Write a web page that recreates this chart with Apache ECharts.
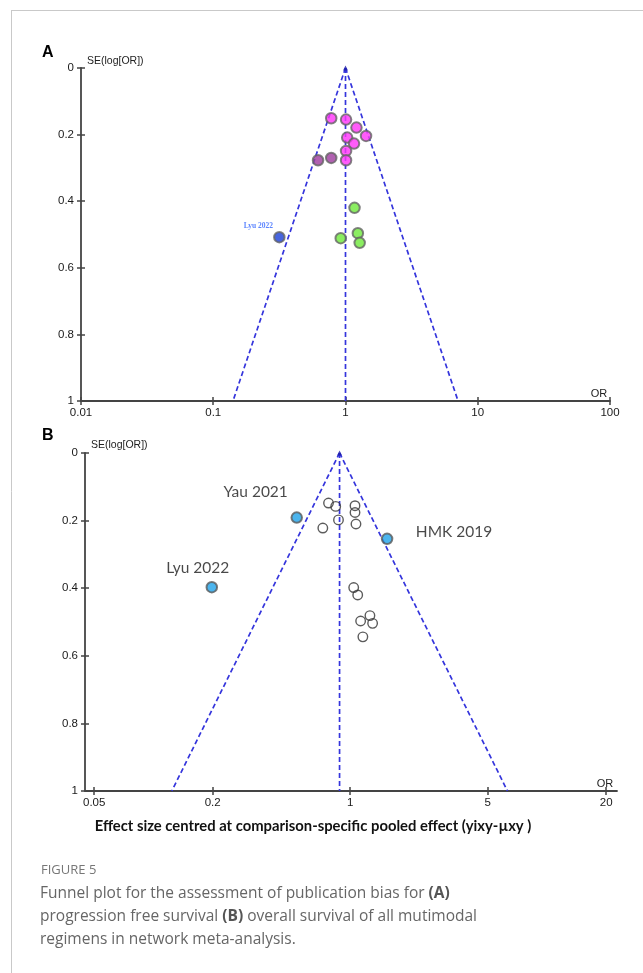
<!DOCTYPE html>
<html>
<head>
<meta charset="utf-8">
<script src="https://cdn.jsdelivr.net/npm/echarts@6/dist/echarts.min.js"></script>
<style>
html,body{margin:0;padding:0;background:#fff;}
#chart{width:643px;height:973px;}
</style>
</head>
<body>
<div id="chart"></div>
<script>
// ---------- Panel A: progression free survival ----------
const pfsMagentaOR = [0.78, 1.01, 1.21, 1.43, 1.03, 1.16, 1.01, 1.01];
const pfsMagentaSE = [0.151, 0.155, 0.179, 0.204, 0.209, 0.227, 0.249, 0.277];
const pfsPurpleOR = [0.62, 0.78];
const pfsPurpleSE = [0.277, 0.270];
const pfsGreenOR = [1.17, 0.92, 1.24, 1.28];
const pfsGreenSE = [0.420, 0.511, 0.496, 0.525];
const pfsOutlierNames = ['Lyu 2022'];
const pfsOutlierOR = [0.316];
const pfsOutlierSE = [0.508];
// funnel (pseudo 95% limits) read at SE = 0 and SE = 1
const funnelSE = [0, 1];
const pfsFunnelLeft = [1, 0.141];
const pfsFunnelRight = [1, 7.1];
const pfsFunnelCenter = [1, 1];
const pfsTickValues = [0.01, 0.1, 1, 10, 100];

// ---------- Panel B: overall survival ----------
const osOpenOR = [0.776, 0.844, 0.872, 0.726, 1.058, 1.058, 1.07, 1.042, 1.092, 1.26, 1.13, 1.30, 1.16];
const osOpenSE = [0.148, 0.158, 0.198, 0.222, 0.156, 0.176, 0.210, 0.398, 0.420, 0.481, 0.497, 0.504, 0.544];
const osLabelledNames = ['Yau 2021', 'Lyu 2022', 'HMK 2019'];
const osLabelledOR = [0.535, 0.198, 1.54];
const osLabelledSE = [0.191, 0.397, 0.254];
const osFunnelLeft = [0.883, 0.124];
const osFunnelRight = [0.883, 6.30];
const osFunnelCenter = [0.883, 0.883];
const osTickValues = [0.05, 0.2, 1, 5, 20];
const osTickLabels = ['0.05', '0.2', '1', '5', '20'];
const osAxisRange = [0.0449, 22.7];

// SE axis ticks
const seTickValues = [0, 0.2, 0.4, 0.6, 0.8, 1];
const seTickLabels = ['0', '0.2', '0.4', '0.6', '0.8', '1'];

const lg = v => Math.log10(v);
const axisColor = '#444444';
const tickFont = {color: '#1a1a1a', fontFamily: 'Liberation Sans', fontSize: 11.5};
const funnelBlue = '#3535dc';

function seFormatter(v) {
  const i = seTickValues.findIndex(t => Math.abs(t - v) < 1e-6);
  return i >= 0 ? seTickLabels[i] : '';
}
function osFormatter(v) {
  const i = osTickValues.findIndex(t => Math.abs(lg(t) - v) < 1e-6);
  return i >= 0 ? osTickLabels[i] : '';
}

function yAxisPair(gridIndex, nameGap) {
  return [
    {
      gridIndex, type: 'value', inverse: true, min: 0, max: 1, interval: 0.2, position: 'left',
      axisLine: {show: true, onZero: false, lineStyle: {color: axisColor, width: 1.8}},
      axisTick: {show: true, inside: false, length: 4, lineStyle: {color: axisColor, width: 1.5}},
      axisLabel: Object.assign({}, tickFont, {margin: 7, formatter: seFormatter}),
      splitLine: {show: false},
      name: 'SE(log[OR])', nameLocation: 'start', nameGap: nameGap,
      nameTextStyle: {color: '#222', fontFamily: 'Liberation Sans', fontSize: 10.5,
        align: 'left', verticalAlign: 'bottom', padding: [0, 0, 0, 6]}
    },
    {
      gridIndex, type: 'value', inverse: true, min: 0, max: 1, interval: 0.2, position: 'left',
      axisLine: {show: false, onZero: false},
      axisTick: {show: true, inside: true, length: 4, lineStyle: {color: axisColor, width: 1.5}},
      axisLabel: {show: false}, splitLine: {show: false}
    }
  ];
}

const xAxisA = {
  gridIndex: 0, type: 'log', logBase: 10, min: pfsTickValues[0], max: pfsTickValues[pfsTickValues.length - 1],
  position: 'bottom',
  axisLine: {show: true, onZero: false, lineStyle: {color: axisColor, width: 1.8}},
  axisTick: {show: true, inside: false, length: 4, lineStyle: {color: axisColor, width: 1.5}},
  axisLabel: Object.assign({}, tickFont, {margin: 6}),
  minorTick: {show: false}, splitLine: {show: false},
  name: 'OR', nameLocation: 'end', nameGap: -11,
  nameTextStyle: {color: '#222', fontFamily: 'Liberation Sans', fontSize: 11,
    align: 'center', verticalAlign: 'bottom', padding: [0, 0, 2, 0]}
};
const xAxisA2 = {
  gridIndex: 0, type: 'log', logBase: 10, min: pfsTickValues[0], max: pfsTickValues[pfsTickValues.length - 1],
  position: 'bottom', axisLine: {show: false, onZero: false},
  axisTick: {show: true, inside: true, length: 4, lineStyle: {color: axisColor, width: 1.5}},
  axisLabel: {show: false}, minorTick: {show: false}, splitLine: {show: false}
};
const osTickPos = osTickValues.map(lg);
const xAxisB = {
  gridIndex: 1, type: 'value', min: lg(osAxisRange[0]), max: lg(osAxisRange[1]), position: 'bottom',
  axisLine: {show: true, onZero: false, lineStyle: {color: axisColor, width: 1.8}},
  axisTick: {show: true, inside: false, length: 4, customValues: osTickPos, lineStyle: {color: axisColor, width: 1.5}},
  axisLabel: Object.assign({}, tickFont, {margin: 6, customValues: osTickPos, formatter: osFormatter}),
  splitLine: {show: false},
  name: 'OR', nameLocation: 'end', nameGap: -12,
  nameTextStyle: {color: '#222', fontFamily: 'Liberation Sans', fontSize: 11,
    align: 'center', verticalAlign: 'bottom', padding: [0, 0, 2, 0]}
};
const xAxisB2 = {
  gridIndex: 1, type: 'value', min: lg(osAxisRange[0]), max: lg(osAxisRange[1]), position: 'bottom',
  axisLine: {show: false, onZero: false},
  axisTick: {show: true, inside: true, length: 4, customValues: osTickPos, lineStyle: {color: axisColor, width: 1.5}},
  axisLabel: {show: false, customValues: osTickPos}, splitLine: {show: false}
};
const xAxisBTitle = {
  gridIndex: 1, type: 'value', min: lg(osAxisRange[0]), max: lg(osAxisRange[1]), position: 'bottom',
  axisLine: {show: false, onZero: false}, axisTick: {show: false}, axisLabel: {show: false}, splitLine: {show: false},
  name: 'Effect size centred at comparison-specific pooled effect (yixy-\u00b5xy )',
  nameLocation: 'middle', nameGap: 28,
  nameTextStyle: {color: '#111', fontFamily: 'Lato', fontWeight: 'bold', fontSize: 14.8,
    padding: [0, 76, 0, 0]}
};

function dashed(xAxisIndex, yAxisIndex, xs, tx) {
  return {
    type: 'line', xAxisIndex, yAxisIndex, symbol: 'none', silent: true, z: 2,
    data: funnelSE.map((s, i) => [tx(xs[i]), s]),
    lineStyle: {color: funnelBlue, width: 1.7, type: [5, 3]}
  };
}
const idA = v => v;

function pts(xAxisIndex, yAxisIndex, ors, ses, tx, style, size, extra) {
  return Object.assign({
    type: 'scatter', xAxisIndex, yAxisIndex, z: 5, symbol: 'circle', symbolSize: size,
    data: ors.map((o, i) => [tx(o), ses[i]]),
    itemStyle: style
  }, extra || {});
}

const option = {
  animation: false,
  backgroundColor: '#ffffff',
  grid: [
    {left: 81, top: 68, width: 529, height: 333, containLabel: false},
    {left: 85, top: 453, width: 532, height: 338, containLabel: false}
  ],
  xAxis: [xAxisA, xAxisA2, xAxisB, xAxisB2, xAxisBTitle],
  yAxis: [].concat(yAxisPair(0, 1), yAxisPair(1, 2)),
  series: [
    // Panel A funnel
    dashed(0, 0, pfsFunnelLeft, idA),
    dashed(0, 0, pfsFunnelRight, idA),
    dashed(0, 0, pfsFunnelCenter, idA),
    {type: 'scatter', xAxisIndex: 0, yAxisIndex: 0, symbol: 'triangle', symbolSize: 5, z: 3,
      data: [[pfsFunnelCenter[0], funnelSE[0]]], itemStyle: {color: '#1b1ba8'}},
    pts(0, 0, pfsMagentaOR, pfsMagentaSE, idA, {color: '#ff33f8', borderColor: '#646464', borderWidth: 2}, 10.5),
    pts(0, 0, pfsPurpleOR, pfsPurpleSE, idA, {color: '#9c3a9c', borderColor: '#646464', borderWidth: 2}, 10.5),
    pts(0, 0, pfsGreenOR, pfsGreenSE, idA, {color: '#6ee83a', borderColor: '#646464', borderWidth: 2}, 10.5),
    pts(0, 0, pfsOutlierOR, pfsOutlierSE, idA, {color: '#1a3fd6', borderColor: '#646464', borderWidth: 2}, 10.5, {
      label: {show: true, position: 'inside', offset: [-21, -11],
        formatter: p => pfsOutlierNames[p.dataIndex],
        color: '#3366ff', fontFamily: 'Liberation Serif', fontWeight: 'bold', fontSize: 7.5}
    }),
    // Panel B funnel
    dashed(2, 2, osFunnelLeft, lg),
    dashed(2, 2, osFunnelRight, lg),
    dashed(2, 2, osFunnelCenter, lg),
    {type: 'scatter', xAxisIndex: 2, yAxisIndex: 2, symbol: 'triangle', symbolSize: 5, z: 3,
      data: [[lg(osFunnelCenter[0]), funnelSE[0]]], itemStyle: {color: '#1b1ba8'}},
    pts(2, 2, osOpenOR, osOpenSE, lg, {color: 'rgba(255,255,255,0)', borderColor: '#333333', borderWidth: 1.4}, 9.5),
    pts(2, 2, osLabelledOR, osLabelledSE, lg, {color: '#1fa3ea', borderColor: '#5a5a5a', borderWidth: 2}, 10.5, {
      label: {show: true, position: 'inside',
        formatter: p => osLabelledNames[p.dataIndex],
        color: '#1a1a1a', fontFamily: 'Lato', fontSize: 15.5},
      labelLayout: function (params) {
        const offs = [[-41, -26], [-14, -19], [67, -7]];
        const o = offs[params.dataIndex];
        return {dx: o[0], dy: o[1]};
      }
    })
  ],
  graphic: [
    {type: 'line', silent: true, shape: {x1: 11, y1: 10.5, x2: 643, y2: 10.5}, style: {stroke: '#c9c9c9', lineWidth: 1}},
    {type: 'line', silent: true, shape: {x1: 11.5, y1: 10, x2: 11.5, y2: 973}, style: {stroke: '#c9c9c9', lineWidth: 1}},
    {type: 'text', x: 42, y: 53, style: {text: 'A', fill: '#000', font: 'bold 16px "Liberation Sans"', verticalAlign: 'middle'}},
    {type: 'text', x: 42, y: 436, style: {text: 'B', fill: '#000', font: 'bold 16px "Liberation Sans"', verticalAlign: 'middle'}},
    {type: 'text', x: 41, y: 870, style: {text: 'FIGURE 5', fill: '#777', font: '13px "Open Sans"', verticalAlign: 'middle'}},
    {type: 'text', x: 40, y: 894, style: {
      text: 'Funnel plot for the assessment of publication bias for {b|(A)}',
      fill: '#666', font: '15.5px "Open Sans"', verticalAlign: 'middle',
      rich: {b: {fill: '#555', fontWeight: 'bold', fontSize: 15.5, fontFamily: 'Open Sans'}}}},
    {type: 'text', x: 40, y: 917, style: {
      text: 'progression free survival {b|(B)} overall survival of all mutimodal',
      fill: '#666', font: '15.5px "Open Sans"', verticalAlign: 'middle',
      rich: {b: {fill: '#555', fontWeight: 'bold', fontSize: 15.5, fontFamily: 'Open Sans'}}}},
    {type: 'text', x: 40, y: 940, style: {
      text: 'regimens in network meta-analysis.',
      fill: '#666', font: '15.5px "Open Sans"', verticalAlign: 'middle'}}
  ]
};

const chart = echarts.init(document.getElementById('chart'), null, {renderer: 'canvas'});
chart.setOption(option);
</script>
</body>
</html>
